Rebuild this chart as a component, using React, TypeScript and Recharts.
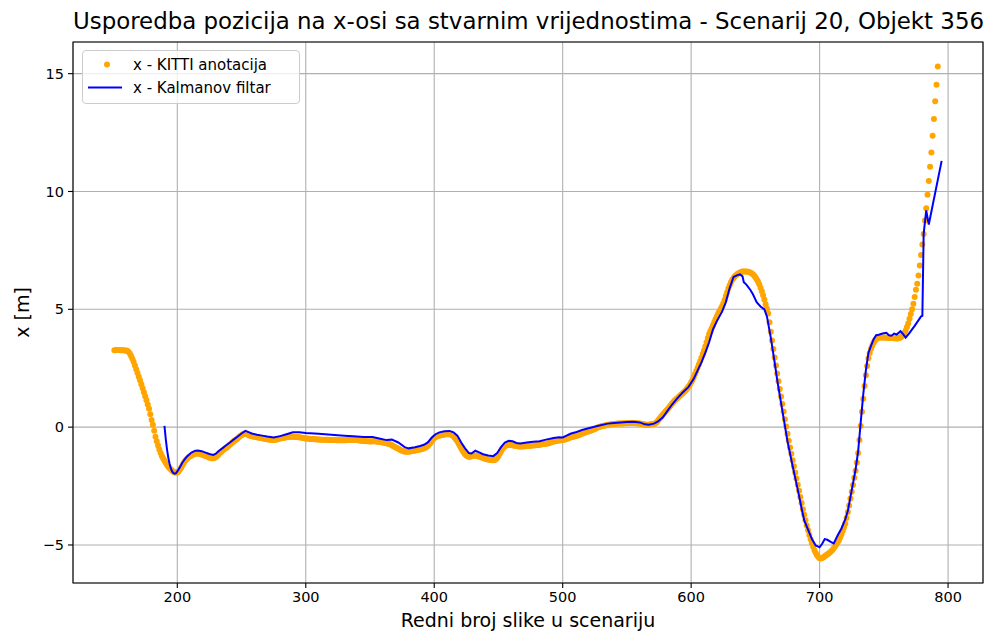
import React from 'react';
import { ComposedChart, Scatter, XAxis, YAxis, CartesianGrid, ReferenceArea } from 'recharts';

// KITTI annotation x-position per frame, starting at frame 151
const kittiFirstFrame = 151;
const kittiX = [
  3.26, 3.26, 3.27, 3.27, 3.27, 3.26, 3.26, 3.26, 3.25, 3.25,
  3.24, 3.2, 3.12, 3.02, 2.9, 2.77, 2.62, 2.46, 2.3, 2.14,
  1.99, 1.82, 1.65, 1.48, 1.31, 1.14, 0.96, 0.78, 0.55, 0.3,
  0.1, -0.15, -0.41, -0.6, -0.78, -0.95, -1.1, -1.22, -1.33, -1.43,
  -1.52, -1.61, -1.68, -1.74, -1.8, -1.85, -1.89, -1.92, -1.93, -1.92,
  -1.88, -1.8, -1.72, -1.62, -1.52, -1.44, -1.37, -1.32, -1.27, -1.23,
  -1.2, -1.17, -1.15, -1.13, -1.12, -1.12, -1.13, -1.14, -1.16, -1.18,
  -1.2, -1.22, -1.24, -1.27, -1.3, -1.31, -1.32, -1.32, -1.3, -1.27,
  -1.22, -1.16, -1.1, -1.05, -1.0, -0.96, -0.92, -0.88, -0.84, -0.79,
  -0.74, -0.69, -0.64, -0.6, -0.56, -0.52, -0.47, -0.42, -0.38, -0.34,
  -0.3, -0.28, -0.27, -0.29, -0.32, -0.35, -0.37, -0.39, -0.4, -0.41,
  -0.42, -0.43, -0.44, -0.45, -0.46, -0.47, -0.48, -0.49, -0.5, -0.51,
  -0.52, -0.53, -0.54, -0.55, -0.55, -0.54, -0.53, -0.51, -0.49, -0.48,
  -0.47, -0.46, -0.45, -0.44, -0.43, -0.42, -0.42, -0.41, -0.41, -0.41,
  -0.41, -0.42, -0.42, -0.43, -0.43, -0.44, -0.45, -0.46, -0.47, -0.48,
  -0.48, -0.49, -0.49, -0.5, -0.5, -0.5, -0.51, -0.51, -0.52, -0.52,
  -0.52, -0.53, -0.53, -0.53, -0.54, -0.54, -0.54, -0.55, -0.55, -0.55,
  -0.55, -0.55, -0.55, -0.56, -0.56, -0.56, -0.56, -0.56, -0.56, -0.56,
  -0.56, -0.55, -0.55, -0.55, -0.55, -0.54, -0.54, -0.54, -0.55, -0.55,
  -0.56, -0.57, -0.58, -0.58, -0.59, -0.59, -0.6, -0.6, -0.6, -0.61,
  -0.61, -0.6, -0.6, -0.6, -0.61, -0.62, -0.62, -0.63, -0.64, -0.65,
  -0.66, -0.67, -0.68, -0.7, -0.72, -0.74, -0.77, -0.8, -0.83, -0.86,
  -0.89, -0.92, -0.95, -0.98, -1.0, -1.02, -1.03, -1.04, -1.04, -1.04,
  -1.03, -1.02, -1.01, -1.0, -0.99, -0.98, -0.97, -0.96, -0.95, -0.94,
  -0.92, -0.9, -0.87, -0.84, -0.8, -0.74, -0.67, -0.6, -0.52, -0.46,
  -0.42, -0.4, -0.38, -0.36, -0.34, -0.33, -0.32, -0.31, -0.3, -0.3,
  -0.3, -0.3, -0.31, -0.34, -0.39, -0.45, -0.52, -0.6, -0.7, -0.8,
  -0.9, -1.0, -1.08, -1.15, -1.2, -1.24, -1.26, -1.26, -1.24, -1.22,
  -1.2, -1.2, -1.21, -1.23, -1.25, -1.27, -1.29, -1.31, -1.33, -1.35,
  -1.36, -1.37, -1.38, -1.39, -1.4, -1.4, -1.39, -1.36, -1.3, -1.22,
  -1.12, -1.02, -0.93, -0.86, -0.81, -0.78, -0.76, -0.75, -0.75, -0.76,
  -0.77, -0.78, -0.79, -0.8, -0.81, -0.82, -0.82, -0.82, -0.82, -0.81,
  -0.81, -0.8, -0.8, -0.79, -0.79, -0.78, -0.78, -0.77, -0.77, -0.76,
  -0.76, -0.75, -0.74, -0.73, -0.72, -0.71, -0.7, -0.69, -0.68, -0.66,
  -0.64, -0.62, -0.61, -0.6, -0.59, -0.58, -0.57, -0.56, -0.56, -0.55,
  -0.54, -0.52, -0.5, -0.48, -0.46, -0.44, -0.42, -0.41, -0.4, -0.38,
  -0.36, -0.34, -0.32, -0.3, -0.28, -0.26, -0.24, -0.22, -0.2, -0.18,
  -0.16, -0.14, -0.12, -0.1, -0.08, -0.05, -0.02, 0.0, 0.02, 0.04,
  0.05, 0.06, 0.07, 0.08, 0.09, 0.1, 0.11, 0.12, 0.13, 0.13,
  0.14, 0.14, 0.15, 0.15, 0.15, 0.16, 0.16, 0.17, 0.17, 0.17,
  0.18, 0.18, 0.18, 0.18, 0.18, 0.18, 0.17, 0.17, 0.16, 0.15,
  0.14, 0.13, 0.12, 0.11, 0.1, 0.1, 0.1, 0.11, 0.12, 0.13,
  0.14, 0.16, 0.2, 0.26, 0.33, 0.4, 0.47, 0.54, 0.6, 0.66,
  0.72, 0.78, 0.85, 0.92, 0.99, 1.06, 1.12, 1.17, 1.22, 1.27,
  1.32, 1.37, 1.42, 1.47, 1.52, 1.58, 1.65, 1.72, 1.8, 1.9,
  2.0, 2.12, 2.25, 2.38, 2.52, 2.66, 2.8, 2.95, 3.1, 3.25,
  3.42, 3.6, 3.78, 3.95, 4.08, 4.2, 4.32, 4.45, 4.58, 4.7,
  4.82, 4.92, 5.02, 5.12, 5.25, 5.4, 5.56, 5.72, 5.88, 6.02,
  6.15, 6.25, 6.33, 6.4, 6.45, 6.5, 6.53, 6.56, 6.58, 6.6,
  6.6, 6.6, 6.6, 6.59, 6.58, 6.56, 6.53, 6.49, 6.43, 6.36,
  6.28, 6.18, 6.06, 5.92, 5.77, 5.6, 5.42, 5.22, 5.02, 4.82,
  4.45, 4.05, 3.68, 3.32, 2.96, 2.62, 2.28, 1.95, 1.62, 1.3,
  0.98, 0.66, 0.34, 0.03, -0.28, -0.58, -0.86, -1.13, -1.4, -1.66,
  -1.92, -2.18, -2.44, -2.7, -2.96, -3.22, -3.48, -3.72, -3.95, -4.17,
  -4.38, -4.58, -4.76, -4.93, -5.08, -5.22, -5.34, -5.44, -5.51, -5.56,
  -5.57, -5.55, -5.52, -5.48, -5.44, -5.4, -5.36, -5.32, -5.27, -5.21,
  -5.14, -5.06, -4.98, -4.9, -4.8, -4.68, -4.55, -4.4, -4.25, -4.1,
  -3.85, -3.6, -3.32, -3.03, -2.74, -2.45, -2.15, -1.85, -1.5, -1.1,
  -0.55, 0.05, 0.65, 1.2, 1.75, 2.2, 2.6, 2.92, 3.15, 3.33,
  3.45, 3.58, 3.67, 3.73, 3.77, 3.79, 3.8, 3.8, 3.8, 3.8,
  3.8, 3.79, 3.79, 3.78, 3.78, 3.78, 3.78, 3.77, 3.77, 3.76,
  3.76, 3.78, 3.8, 3.85, 3.92, 4.0, 4.1, 4.25, 4.4, 4.6,
  4.8, 5.0, 5.24, 5.52, 5.83, 6.09, 6.44, 6.86, 7.3, 7.75,
  8.2, 8.77, 9.29, 9.86, 10.45, 11.05, 11.65, 12.37, 13.08, 13.83,
  14.53, 15.3,
];

// Kalman filter estimate (frame, x)
const kalmanFrames = [
  190, 191, 192, 193, 194, 195, 196, 197, 198, 199, 200, 202, 204, 206, 208, 211, 214, 216, 219, 222,
  225, 228, 230, 232, 235, 238, 241, 244, 247, 250, 253, 255, 258, 262, 266, 270, 275, 280, 285, 290,
  295, 300, 310, 320, 330, 337, 345, 352, 358, 363, 367, 372, 377, 380, 385, 389, 392, 395, 398, 401,
  404, 408, 412, 415, 418, 421, 424, 427, 429, 432, 435, 438, 442, 446, 449, 452, 455, 458, 461, 464,
  467, 472, 477, 482, 487, 493, 497, 500, 503, 506, 510, 515, 520, 527, 535, 540, 545, 550, 555, 560,
  564, 567, 571, 574, 578, 581, 585, 589, 593, 598, 602, 605, 608, 611, 614, 617, 620, 624, 627, 630,
  633, 636, 638, 640, 641, 643, 646, 648, 651, 654, 657, 659, 662, 665, 667, 671, 675, 679, 683, 686,
  688, 691, 694, 697, 700, 702, 704, 706, 709, 711, 714, 717, 720, 722, 725, 728, 730, 732, 734, 736,
  738, 740, 742, 744, 746, 749, 752, 754, 756, 758, 760, 763, 765, 767, 770, 774, 779, 780, 781, 783,
  785, 795,
];
const kalmanX = [
  0.05, -0.5, -0.95, -1.3, -1.55, -1.75, -1.88, -1.95, -1.97, -1.95, -1.88, -1.7, -1.5, -1.35, -1.22, -1.08, -1.0, -0.99, -1.02, -1.08,
  -1.14, -1.18, -1.13, -1.02, -0.9, -0.77, -0.65, -0.52, -0.4, -0.27, -0.16, -0.2, -0.27, -0.32, -0.36, -0.4, -0.44, -0.38, -0.3, -0.22,
  -0.22, -0.25, -0.28, -0.32, -0.36, -0.39, -0.42, -0.42, -0.49, -0.55, -0.53, -0.65, -0.85, -0.9, -0.85, -0.8, -0.75, -0.65, -0.45, -0.3,
  -0.22, -0.17, -0.16, -0.22, -0.36, -0.65, -0.9, -1.1, -1.12, -1.0, -1.07, -1.15, -1.2, -1.23, -1.1, -0.85, -0.65, -0.58, -0.6, -0.67,
  -0.69, -0.65, -0.62, -0.6, -0.53, -0.46, -0.43, -0.44, -0.36, -0.28, -0.22, -0.12, -0.05, 0.05, 0.15, 0.18, 0.2, 0.22, 0.23, 0.2,
  0.12, 0.1, 0.15, 0.23, 0.42, 0.65, 0.95, 1.21, 1.45, 1.71, 2.05, 2.4, 2.75, 3.15, 3.6, 4.15, 4.5, 4.89, 5.3, 5.9,
  6.37, 6.45, 6.48, 6.4, 6.15, 6.05, 5.83, 5.65, 5.3, 5.12, 5.0, 4.7, 3.8, 2.75, 2.0, 0.7, -0.6, -1.65, -2.65, -3.45,
  -3.95, -4.35, -4.75, -5.02, -5.1, -4.95, -4.75, -4.78, -4.88, -4.93, -4.6, -4.3, -3.9, -3.55, -2.67, -1.8, -1.03, 0.2, 1.4, 2.4,
  3.15, 3.45, 3.72, 3.9, 3.92, 3.97, 4.0, 3.9, 3.88, 3.97, 3.93, 4.07, 3.95, 3.8, 4.0, 4.3, 4.7, 4.72, 8.2, 9.2,
  8.6, 11.3,
];

const xTicks = [200, 300, 400, 500, 600, 700, 800];
const yTicks = [-5, 0, 5, 10, 15];

const titleText = 'Usporedba pozicija na x-osi sa stvarnim vrijednostima - Scenarij 20, Objekt 356';
const xLabelText = 'Redni broj slike u scenariju';
const yLabelText = 'x [m]';
const kittiName = 'x - KITTI anotacija';
const kalmanName = 'x - Kalmanov filtar';

const kittiData = kittiX.map((v, i) => ({ frame: kittiFirstFrame + i, x: v }));
const kalmanData = kalmanFrames.map((f, i) => ({ frame: f, x: kalmanX[i] }));

const allFrames = [...kittiData.map((d) => d.frame), ...kalmanFrames];
const allVals = [...kittiX, ...kalmanX];
const fMin = Math.min(...allFrames);
const fMax = Math.max(...allFrames);
const vMin = Math.min(...allVals);
const vMax = Math.max(...allVals);
const xDomain = [fMin - 0.05 * (fMax - fMin), fMax + 0.05 * (fMax - fMin)];
const yDomain = [vMin - 0.05 * (vMax - vMin), vMax + 0.05 * (vMax - vMin)];

const FONT = 'DejaVu Sans';
const ORANGE = '#ffa500';
const BLUE = '#0000ff';

const minus = (v: number) => String(v).replace('-', '\u2212');

const XLabel = (props: any) => {
  const vb = props.viewBox || {};
  return (
    <text x={vb.x + vb.width / 2} y={vb.y + vb.height - 8} textAnchor="middle" fontSize={19} fontFamily={FONT} fill="#000">
      {xLabelText}
    </text>
  );
};

const YLabel = (props: any) => {
  const vb = props.viewBox || {};
  const cx = vb.x + 22;
  const cy = vb.y + vb.height / 2;
  return (
    <text x={cx} y={cy} transform={`rotate(-90 ${cx} ${cy})`} textAnchor="middle" dominantBaseline="central" fontSize={19} fontFamily={FONT} fill="#000">
      {yLabelText}
    </text>
  );
};

const Dot = (p: any) => <circle cx={p.cx} cy={p.cy} r={3} fill={ORANGE} />;
const NoDot = () => <g />;

export default function App() {
  return (
    <div style={{ position: 'absolute', left: 0, top: 0, width: 986, height: 635, background: '#fff', fontFamily: FONT }}>
      <ComposedChart width={986} height={635} margin={{ top: 42, right: 3, bottom: 0, left: 0 }}>
        <CartesianGrid stroke="#b0b0b0" strokeWidth={1.1} />
        <XAxis
          type="number"
          dataKey="frame"
          domain={xDomain}
          ticks={xTicks}
          allowDataOverflow
          height={52}
          tickSize={5}
          tickMargin={4}
          axisLine={false}
          tickLine={{ stroke: '#000', strokeWidth: 1.1 }}
          tick={{ fill: '#000', fontSize: 14.5, fontFamily: FONT }}
          label={{ content: XLabel }}
        />
        <YAxis
          type="number"
          dataKey="x"
          domain={yDomain}
          ticks={yTicks}
          allowDataOverflow
          width={73}
          tickSize={5}
          tickMargin={4}
          axisLine={false}
          tickLine={{ stroke: '#000', strokeWidth: 1.1 }}
          tick={{ fill: '#000', fontSize: 14.5, fontFamily: FONT }}
          tickFormatter={minus}
          label={{ content: YLabel }}
        />
        <Scatter name={kittiName} data={kittiData} dataKey="x" shape={Dot} isAnimationActive={false} />
        <Scatter
          name={kalmanName}
          data={kalmanData}
          dataKey="x"
          shape={NoDot}
          line={{ stroke: BLUE, strokeWidth: 2, fill: 'none' }}
          lineType="joint"
          isAnimationActive={false}
        />
        <ReferenceArea
          x1={xDomain[0]}
          x2={xDomain[1]}
          y1={yDomain[0]}
          y2={yDomain[1]}
          fill="none"
          fillOpacity={0}
          stroke="#000"
          strokeWidth={1.1}
          ifOverflow="visible"
        />
      </ComposedChart>
      <div
        style={{
          position: 'absolute',
          left: 73,
          top: 10,
          width: 910,
          textAlign: 'center',
          fontSize: 22.9,
          lineHeight: 1,
          whiteSpace: 'nowrap',
          color: '#000',
        }}
      >
        {titleText}
      </div>
      <div
        style={{
          position: 'absolute',
          left: 82,
          top: 50,
          width: 218,
          height: 54,
          boxSizing: 'border-box',
          border: '1px solid #cccccc',
          borderRadius: 4,
          background: 'rgba(255,255,255,0.8)',
          fontSize: 15,
          color: '#000',
        }}
      >
        <div style={{ position: 'absolute', left: 0, top: 2, height: 23, width: 216, display: 'flex', alignItems: 'center' }}>
          <svg width={50} height={23} style={{ display: 'block' }}>
            <circle cx={24} cy={11.5} r={3} fill={ORANGE} />
          </svg>
          <span style={{ whiteSpace: 'nowrap' }}>{kittiName}</span>
        </div>
        <div style={{ position: 'absolute', left: 0, top: 25, height: 23, width: 216, display: 'flex', alignItems: 'center' }}>
          <svg width={50} height={23} style={{ display: 'block' }}>
            <line x1={5} x2={39} y1={11.5} y2={11.5} stroke={BLUE} strokeWidth={2} />
          </svg>
          <span style={{ whiteSpace: 'nowrap' }}>{kalmanName}</span>
        </div>
      </div>
    </div>
  );
}
